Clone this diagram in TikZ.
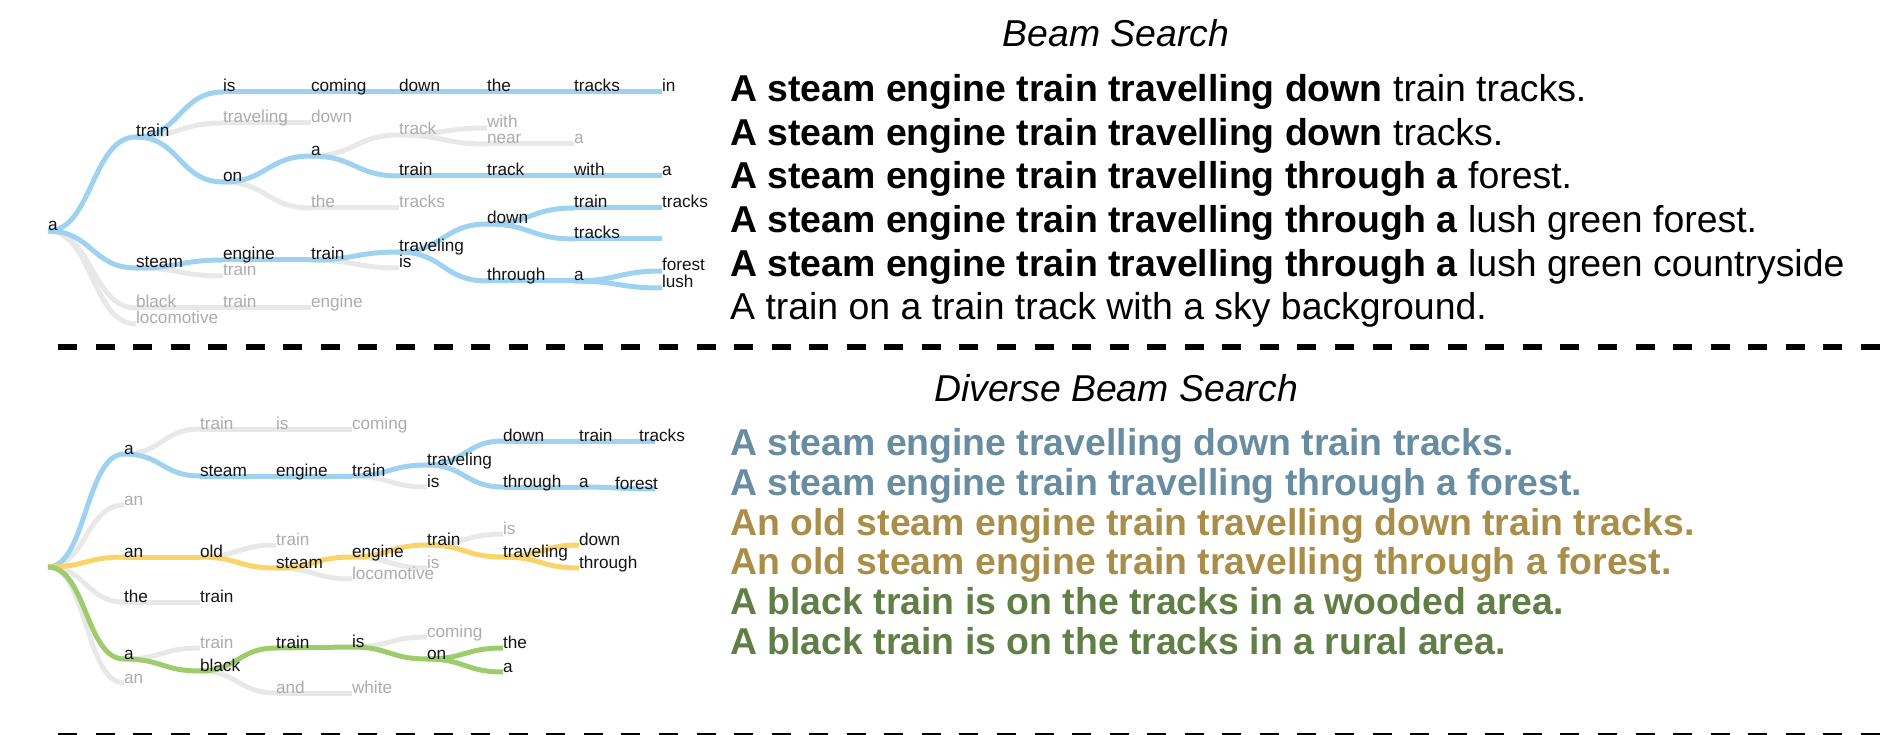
\documentclass[tikz,border=0pt]{standalone}
\usepackage{fontspec}
\setmainfont{Liberation Sans}
\usetikzlibrary{calc,backgrounds}

\definecolor{beamblue}{RGB}{158,210,240}
\definecolor{beamgold}{RGB}{250,212,105}
\definecolor{beamgreen}{RGB}{158,204,108}
\definecolor{prunedline}{RGB}{232,232,232}
\definecolor{prunedword}{RGB}{172,172,172}
\definecolor{wordink}{RGB}{20,20,20}
\definecolor{capblue}{RGB}{104,140,160}
\definecolor{capgold}{RGB}{168,142,72}
\definecolor{capgreen}{RGB}{96,126,70}

\newcommand\treefont{\fontsize{17.2}{20}\selectfont}
\newcommand\capfont{\fontsize{37.4}{44}\selectfont}

% draws the links of one colour between word nodes (base west to base west)
\newcommand\links[2]{%
  \foreach \s/\t in {#2} \draw[#1] (\s.base west) to[sig] (\t.base west);}

\tikzset{
  word/.style={anchor=base west, inner sep=0pt, outer sep=0pt, font=\treefont, text=wordink},
  pword/.style={word, text=prunedword},
  sig/.style={to path={let \p1=(\tikztostart), \p2=(\tikztotarget), \n1={0.5*(\x1+\x2)} in
      .. controls (\n1,\y1) and (\n1,\y2) .. (\tikztotarget)}},
  lnk/.style={line width=5pt},
  pruned/.style={lnk, draw=prunedline},
  bluelnk/.style={lnk, draw=beamblue},
  goldlnk/.style={lnk, draw=beamgold},
  greenlnk/.style={lnk, draw=beamgreen},
  caption/.style={anchor=base west, inner sep=0pt, font=\capfont},
  heading/.style={anchor=base, inner sep=0pt, font=\capfont\itshape},
  divider/.style={line width=6.5pt, dash pattern=on 19pt off 18.56pt},
}

\begin{document}
\begin{tikzpicture}[x=1pt,y=-1pt]
\useasboundingbox (0,0) rectangle (1896,735);

% ---------------- beam search tree ----------------
\node[word]  (b0)   at (48,231)  {a};
\node[word]  (b1t)  at (136,137) {train};
\node[word]  (b1s)  at (136,268) {steam};
\node[pword] (b1b)  at (136,308) {black};
\node[pword] (b1l)  at (136,324) {locomotive};
\node[word]  (b2is) at (223,92)  {is};
\node[pword] (b2tr) at (223,123) {traveling};
\node[word]  (b2on) at (223,182) {on};
\node[word]  (b2en) at (223,260) {engine};
\node[pword] (b2ta) at (223,276) {train};
\node[pword] (b2tb) at (223,308) {train};
\node[word]  (b3co) at (311,92)  {coming};
\node[pword] (b3do) at (311,123) {down};
\node[word]  (b3a)  at (311,156) {a};
\node[pword] (b3th) at (311,208) {the};
\node[word]  (b3tr) at (311,260) {train};
\node[pword] (b3en) at (311,308) {engine};
\node[word]  (b4do) at (399,92)  {down};
\node[pword] (b4tk) at (399,135) {track};
\node[word]  (b4tr) at (399,176) {train};
\node[pword] (b4ts) at (399,208) {tracks};
\node[word]  (b4tv) at (399,252) {traveling};
\node[word]  (b4is) at (399,268) {is};
\node[word]  (b5th) at (487,92)  {the};
\node[pword] (b5wi) at (487,128) {with};
\node[pword] (b5ne) at (487,144) {near};
\node[word]  (b5tk) at (487,176) {track};
\node[word]  (b5do) at (487,224) {down};
\node[word]  (b5tg) at (487,281) {through};
\node[word]  (b6ts) at (574,92)  {tracks};
\node[pword] (b6a)  at (574,144) {a};
\node[word]  (b6wi) at (574,176) {with};
\node[word]  (b6tr) at (574,208) {train};
\node[word]  (b6tt) at (574,239) {tracks};
\node[word]  (b6aa) at (574,281) {a};
\node[word]  (b7in) at (662,92)  {in};
\node[word]  (b7a)  at (662,176) {a};
\node[word]  (b7ts) at (662,208) {tracks};
\coordinate  (b7end) at (662,239);
\node[word]  (b7fo) at (662,271) {forest};
\node[word]  (b7lu) at (662,288) {lush};

\begin{scope}[on background layer]
\links{pruned}{b0/b1b, b0/b1l, b1t/b2tr, b2tr/b3do, b2on/b3th, b3th/b4ts,
  b3a/b4tk, b4tk/b5wi, b4tk/b5ne, b5ne/b6a, b1s/b2ta, b3tr/b4is, b1b/b2tb, b2tb/b3en}
\links{bluelnk}{b0/b1t, b0/b1s, b1t/b2is, b1t/b2on, b2is/b3co, b3co/b4do, b4do/b5th,
  b5th/b6ts, b6ts/b7in, b2on/b3a, b3a/b4tr, b4tr/b5tk, b5tk/b6wi, b6wi/b7a,
  b1s/b2en, b2en/b3tr, b3tr/b4tv, b4tv/b5do, b4tv/b5tg, b5do/b6tr, b5do/b6tt,
  b6tr/b7ts, b5tg/b6aa, b6aa/b7fo, b6aa/b7lu}
\draw[bluelnk] (b6tt.base west) to[sig] (b7end);
\end{scope}

% ---------------- diverse beam search tree ----------------
\coordinate  (d0) at (48,567);
\node[word]  (da1)  at (124,454) {a};
\node[pword] (dan1) at (124,505) {an};
\node[word]  (dan2) at (124,557) {an};
\node[word]  (dthe) at (124,602) {the};
\node[word]  (da2)  at (124,659) {a};
\node[pword] (dan3) at (124,683) {an};
\node[pword] (dtr1) at (200,429) {train};
\node[word]  (dst)  at (200,476) {steam};
\node[word]  (dold) at (200,557) {old};
\node[word]  (dtr2) at (200,602) {train};
\node[pword] (dtr3) at (200,648) {train};
\node[word]  (dbl)  at (200,671) {black};
\node[pword] (dis1) at (276,429) {is};
\node[word]  (den)  at (276,476) {engine};
\node[pword] (dtr4) at (276,545) {train};
\node[word]  (dst2) at (276,568) {steam};
\node[word]  (dtr5) at (276,648) {train};
\node[pword] (dand) at (276,693) {and};
\node[pword] (dco)  at (352,429) {coming};
\node[word]  (dtr6) at (352,476) {train};
\node[word]  (den2) at (352,557) {engine};
\node[pword] (dlo)  at (352,579) {locomotive};
\node[word]  (dis2) at (352,647) {is};
\node[pword] (dwh)  at (352,693) {white};
\node[word]  (dtv)  at (427,465) {traveling};
\node[word]  (dis3) at (427,487) {is};
\node[word]  (dtr7) at (427,545) {train};
\node[pword] (dis4) at (427,568) {is};
\node[pword] (dco2) at (427,637) {coming};
\node[word]  (don)  at (427,659) {on};
\node[word]  (ddo)  at (503,441) {down};
\node[word]  (dth)  at (503,487) {through};
\node[pword] (dis5) at (503,534) {is};
\node[word]  (dtv2) at (503,557) {traveling};
\node[word]  (dthe2) at (503,648) {the};
\node[word]  (da3)  at (503,672) {a};
\node[word]  (dtr8) at (579,441) {train};
\node[word]  (da4)  at (579,487) {a};
\node[word]  (ddo2) at (579,545) {down};
\node[word]  (dth2) at (579,568) {through};
\node[word]  (dts)  at (639,441) {tracks};
\node[word]  (dfo)  at (615,489) {forest};
\coordinate  (dend1) at (655,441);
\coordinate  (dend2) at (655,489);

\begin{scope}[on background layer]
\links{pruned}{da1/dtr1, dtr1/dis1, dis1/dco, dtr6/dis3, dthe/dtr2, dold/dtr4,
  dst2/dlo, den2/dis4, dtr7/dis5, da2/dtr3, dbl/dand, dand/dwh, dis2/dco2}
\foreach \t in {dan1, dthe, dan3} \draw[pruned] (d0) to[sig] (\t.base west);
\draw[bluelnk] (d0) to[sig] (da1.base west);
\draw[goldlnk] (d0) to[sig] (dan2.base west);
\draw[greenlnk] (d0) to[sig] (da2.base west);
\links{bluelnk}{da1/dst, dst/den, den/dtr6, dtr6/dtv, dtv/ddo, ddo/dtr8, dtv/dth, dth/da4}
\draw[bluelnk] (dtr8.base west) to[sig] (dend1);
\draw[bluelnk] (da4.base west) to[sig] (dend2);
\links{goldlnk}{dan2/dold, dold/dst2, dst2/den2, den2/dtr7, dtr7/dtv2, dtv2/ddo2, dtv2/dth2}
\links{greenlnk}{da2/dbl, dbl/dtr5, dtr5/dis2, dis2/don, don/dthe2, don/da3}
\end{scope}

% ---------------- captions ----------------
\node[heading] (h1) at (1116,47) {Beam Search};
\node[caption] (s1) at (730,102)   {\textbf{A steam engine train travelling down} train tracks.};
\node[caption] (s2) at (730,145.5) {\textbf{A steam engine train travelling down} tracks.};
\node[caption] (s3) at (730,189)   {\textbf{A steam engine train travelling through a} forest.};
\node[caption] (s4) at (730,233)   {\textbf{A steam engine train travelling through a} lush green forest.};
\node[caption] (s5) at (730,276.5) {\textbf{A steam engine train travelling through a} lush green countryside};
\node[caption] (s6) at (730,320)   {A train on a train track with a sky background.};

\draw[divider] (58,347) -- (1881,347);

\node[heading] (h2) at (1116,401) {Diverse Beam Search};
\node[caption, text=capblue]  (t1) at (730,455) {\bfseries A steam engine travelling down train tracks.};
\node[caption, text=capblue]  (t2) at (730,495) {\bfseries A steam engine train travelling through a forest.};
\node[caption, text=capgold]  (t3) at (730,535) {\bfseries An old steam engine train travelling down train tracks.};
\node[caption, text=capgold]  (t4) at (730,574) {\bfseries An old steam engine train travelling through a forest.};
\node[caption, text=capgreen] (t5) at (730,614) {\bfseries A black train is on the tracks in a wooded area.};
\node[caption, text=capgreen] (t6) at (730,654) {\bfseries A black train is on the tracks in a rural area.};

\draw[divider] (58,736) -- (1881,736);
\end{tikzpicture}
\end{document}
